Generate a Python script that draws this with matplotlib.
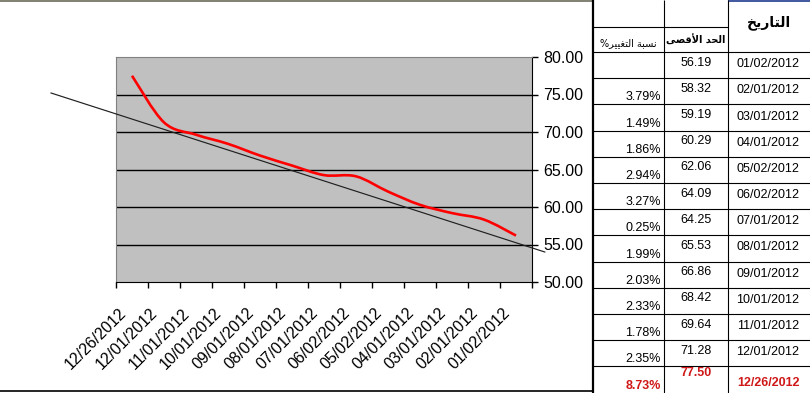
import numpy as np
import matplotlib
matplotlib.use("Agg")
from matplotlib import pyplot as plt
from matplotlib.path import Path
from matplotlib.patches import PathPatch
from matplotlib.transforms import ScaledTranslation

# table rows, top to bottom as in the sheet
dates = ["01/02/2012", "02/01/2012", "03/01/2012", "04/01/2012", "05/02/2012",
         "06/02/2012", "07/01/2012", "08/01/2012", "09/01/2012", "10/01/2012",
         "11/01/2012", "12/01/2012", "12/26/2012"]
highs = [56.19, 58.32, 59.19, 60.29, 62.06, 64.09, 64.25, 65.53, 66.86,
         68.42, 69.64, 71.28, 77.50]
pct_change = ["", "3.79%", "1.49%", "1.86%", "2.94%", "3.27%", "0.25%",
              "1.99%", "2.03%", "2.33%", "1.78%", "2.35%", "8.73%"]

# hand drawn trend line (category index, value) at its two ends
trend_x = [-1.53, 13.9]
trend_y = [75.2, 54.0]

y_ticks = [50, 55, 60, 65, 70, 75, 80]

hdr_date = "التاريخ"
hdr_high = "الحد الأقصى"
hdr_pct = "نسبة التغيير%"

# matplotlib does no arabic shaping: pick presentation forms by hand
AR_FORMS = {  # isolated, final, initial, medial
    "ا": (0xFE8D, 0xFE8E, None, None),
    "أ": (0xFE83, 0xFE84, None, None),
    "ب": (0xFE8F, 0xFE90, 0xFE91, 0xFE92),
    "ة": (0xFE93, 0xFE94, None, None),
    "ت": (0xFE95, 0xFE96, 0xFE97, 0xFE98),
    "ح": (0xFEA1, 0xFEA2, 0xFEA3, 0xFEA4),
    "خ": (0xFEA5, 0xFEA6, 0xFEA7, 0xFEA8),
    "د": (0xFEA9, 0xFEAA, None, None),
    "ر": (0xFEAD, 0xFEAE, None, None),
    "س": (0xFEB1, 0xFEB2, 0xFEB3, 0xFEB4),
    "ص": (0xFEB9, 0xFEBA, 0xFEBB, 0xFEBC),
    "غ": (0xFECD, 0xFECE, 0xFECF, 0xFED0),
    "ق": (0xFED5, 0xFED6, 0xFED7, 0xFED8),
    "ل": (0xFEDD, 0xFEDE, 0xFEDF, 0xFEE0),
    "ن": (0xFEE5, 0xFEE6, 0xFEE7, 0xFEE8),
    "ى": (0xFEEF, 0xFEF0, None, None),
    "ي": (0xFEF1, 0xFEF2, 0xFEF3, 0xFEF4),
}
LAM_ALEF = {"ا": (0xFEFB, 0xFEFC), "أ": (0xFEF7, 0xFEF8)}


def joins_fwd(c):
    return c in AR_FORMS and AR_FORMS[c][2] is not None


def shape(text):
    out = []
    prev = None
    i = 0
    while i < len(text):
        c = text[i]
        if c not in AR_FORMS:
            out.append(c)
            prev = None
            i += 1
            continue
        p = prev is not None and joins_fwd(prev)
        if c == "ل" and i + 1 < len(text) and text[i + 1] in LAM_ALEF:
            iso, fin = LAM_ALEF[text[i + 1]]
            out.append(chr(fin if p else iso))
            prev = text[i + 1]
            i += 2
            continue
        nxt = text[i + 1] if i + 1 < len(text) else None
        q = nxt in AR_FORMS and joins_fwd(c)
        iso, fin, ini, med = AR_FORMS[c]
        g = med if (p and q) else fin if p else ini if q else iso
        out.append(chr(g))
        prev = c
        i += 1
    return "".join(reversed(out))


plt.rcParams["font.family"] = ["Liberation Sans", "DejaVu Sans"]

W, H = 810, 393
fig = plt.figure(figsize=(W / 100, H / 100), dpi=100)

# overlay in pixel units for the sheet frame and the table
ov = fig.add_axes([0, 0, 1, 1])
ov.set_xlim(0, W)
ov.set_ylim(H, 0)
ov.axis("off")

ax = fig.add_axes([116 / W, 1 - 282 / H, 416 / W, 225 / H])

cat_dates = dates[::-1]
cat_vals = highs[::-1]
x = np.arange(1, len(cat_vals) + 1)

ax.set_facecolor("#c0c0c0")
ax.set_xlim(0.5, len(x) + 0.5)
ax.set_ylim(y_ticks[0], y_ticks[-1])
for yv in y_ticks[1:-1]:
    ax.axhline(yv, color="black", lw=1, zorder=1)

# smoothed line (catmull-rom as bezier)
pts = np.column_stack([x, cat_vals]).astype(float)
ext = np.vstack([pts[0], pts, pts[-1]])
verts = [pts[0]]
codes = [Path.MOVETO]
for i in range(len(pts) - 1):
    p0, p1, p2, p3 = ext[i], ext[i + 1], ext[i + 2], ext[i + 3]
    verts += [p1 + (p2 - p0) / 6, p2 - (p3 - p1) / 6, p2]
    codes += [Path.CURVE4] * 3
ax.add_patch(PathPatch(Path(verts, codes), fill=False, edgecolor="#ff0000",
                       lw=1.9, zorder=3))

ax.plot(trend_x, trend_y, color="#202020", lw=0.85, clip_on=False, zorder=4)

for s in ["top", "left"]:
    ax.spines[s].set_color("#808080")
for s in ["bottom", "right"]:
    ax.spines[s].set_color("black")

ax.yaxis.tick_right()
ax.set_yticks(y_ticks)
ax.set_yticklabels([f"{v:.2f}" for v in y_ticks])
ax.tick_params(axis="y", direction="out", length=4, width=1, pad=4,
               labelsize=11.5)

ax.set_xticks(x)
ax.set_xticklabels(cat_dates, rotation=45, ha="right",
                   rotation_mode="anchor")
ax.set_xticks(np.arange(0.5, len(x) + 1), minor=True)
ax.tick_params(axis="x", which="major", length=0, pad=14, labelsize=11.5)
ax.tick_params(axis="x", which="minor", direction="out", length=4, width=1)
shift = ScaledTranslation(-0.14, -0.04, fig.dpi_scale_trans)
for lbl in ax.get_xticklabels():
    lbl.set_transform(lbl.get_transform() + shift)

# sheet frame around the chart
ov.hlines(0.5, 0, 592, color="#6b6b5b", lw=1.2)
ov.hlines(391, 0, 592, color="black", lw=1.2)
ov.vlines(592.5, 0, H, color="black", lw=1.6)

# table
col_x = [592, 664, 728, 810]
row_top, row_h = 52, 26.2
ov.hlines(0.5, 728, 810, color="#1f3b8f", lw=1.2)
ov.hlines(27, col_x[0], col_x[2], color="black", lw=0.8)
for k in range(len(dates)):
    ov.hlines(row_top + k * row_h, col_x[0], col_x[3], color="black", lw=0.8)
for cx in col_x[1:3]:
    ov.vlines(cx, 0, H, color="black", lw=0.8)

ov.text(769, 23, shape(hdr_date), ha="center", va="center", fontsize=10,
        fontweight="bold", family=["DejaVu Sans"])
ov.text(696, 40, shape(hdr_high), ha="center", va="center", fontsize=7,
        fontweight="bold", family=["DejaVu Sans"])
ov.text(628, 43, shape(hdr_pct), ha="center", va="center", fontsize=7,
        family=["DejaVu Sans"])

for k, (d, v, p) in enumerate(zip(dates, highs, pct_change)):
    top = row_top + k * row_h
    last = k == len(dates) - 1
    kw = dict(fontsize=9, color="black")
    if last:
        kw = dict(fontsize=9, color="#d01818", fontweight="bold")
    ov.text(661, top + row_h - 4, p, ha="right", va="baseline", **kw)
    ov.text(696, top + row_h / 2 - (6 if last else 2.5), f"{v:.2f}",
            ha="center", va="center", **kw)
    ov.text(768, top + row_h / 2 + (3.5 if last else -1), d,
            ha="center", va="center", **kw)

fig.savefig("out.png", dpi=100)
